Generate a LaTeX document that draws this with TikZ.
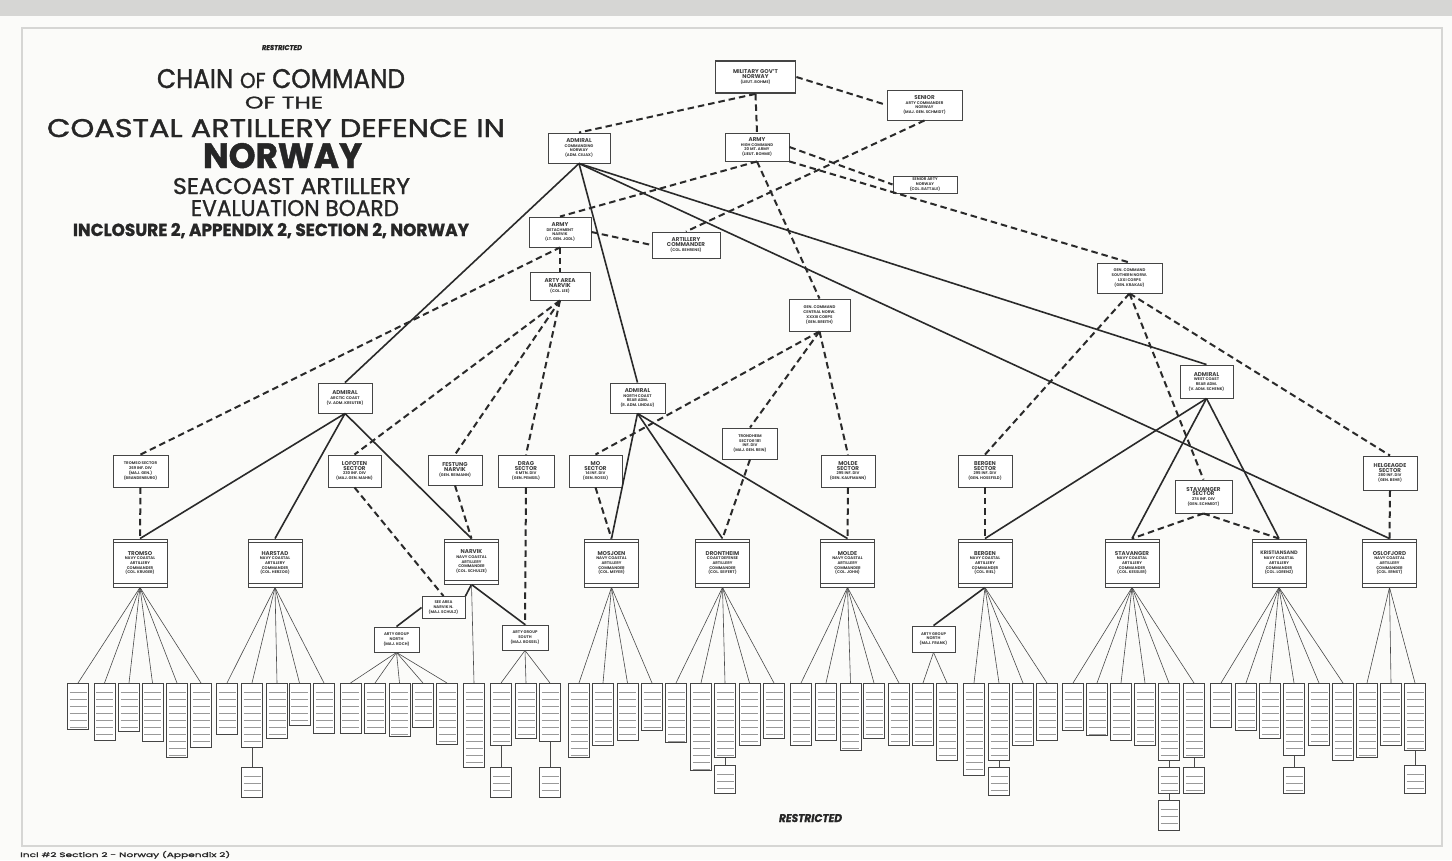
\documentclass[tikz,border=0pt]{standalone}
\usepackage{fontspec}
\setmainfont{Poppins}
\newfontfamily\ttlfont[FakeBold=1.2]{Poppins}
\usepackage{graphicx}
\usetikzlibrary{calc}
\definecolor{linec}{HTML}{2A2A2A}
\definecolor{boxc}{HTML}{454545}
\definecolor{paper}{HTML}{FBFBF9}
\definecolor{edge}{HTML}{D6D6D4}
\newcommand\hd[1]{{\fontsize{5.6}{6.4}\selectfont #1}}
\newcommand\bat[4]{\node[batt, minimum height={#3-683}] (#1) at (#2,683) {};\draw[fan] (#4.south) -- (#1.north);}
\newcommand\subb[5]{\node[batt, minimum height={#4-#3}] (#1) at (#2,#3) {};\draw[fan] (#5.south) -- (#1.north);}
\tikzset{
  box/.style={draw=boxc, line width=0.9pt, fill=white, inner sep=1pt, align=center,
    font=\fontsize{3.9}{4.7}\selectfont\bfseries, text=black!75},
  sz/.style 2 args={minimum width=#1pt, minimum height=#2pt},
  bigbox/.style={box, line width=1.8pt},
  cmdr/.style={box, minimum width=54pt, minimum height=48pt,
    path picture={\draw[boxc, line width=0.45pt]
      ([yshift=-3.5pt]path picture bounding box.north west) -- ([yshift=-3.5pt]path picture bounding box.north east)
      ([yshift=3.5pt]path picture bounding box.south west) -- ([yshift=3.5pt]path picture bounding box.south east);}},
  batt/.style={draw=boxc, line width=0.7pt, fill=white, minimum width=21pt, inner sep=0pt, anchor=north,
    path picture={\foreach \k in {1,...,12}{\draw[boxc!55, line width=0.4pt]
      ([yshift=-\k*7pt-2pt,xshift=2pt]path picture bounding box.north west) -- ++(17,0);}}},
  conn/.style={draw=linec, line width=1.6pt},
  dconn/.style={draw=linec, line width=2pt, dash pattern=on 6.5pt off 4pt},
  fan/.style={draw=linec!85, line width=0.6pt},
  ttl/.style={anchor=base, inner sep=0pt, text=black!85, font=\ttlfont},
}
\begin{document}
\begin{tikzpicture}[x=1pt,y=-1pt]
\useasboundingbox (0,0) rectangle (1452,860);
\fill[paper] (0,0) rectangle (1452,860);
\fill[edge] (0,0) rectangle (1452,16);
\draw[edge, line width=1.2pt] (22,28) rectangle (1442,846);

% ---------- title ----------
\node[ttl] (r1) at (282,50) {\resizebox{40pt}{5pt}{\bfseries\itshape RESTRICTED}};
\node[ttl] (t1) at (281,88) {\resizebox{248pt}{19pt}{CHAIN {\footnotesize OF} COMMAND}};
\node[ttl] (t2) at (284,108.5) {\resizebox{78pt}{12pt}{OF THE}};
\node[ttl] (t3) at (276,137) {\resizebox{458pt}{18pt}{COASTAL ARTILLERY DEFENCE IN}};
\node[ttl] (t4) at (282.5,168) {\resizebox{159pt}{25pt}{\bfseries NORWAY}};
\node[ttl] (t5) at (291.5,194) {\resizebox{237pt}{16pt}{SEACOAST ARTILLERY}};
\node[ttl] (t6) at (295,216) {\resizebox{208pt}{16pt}{EVALUATION BOARD}};
\node[ttl] (t7) at (271,236) {\resizebox{396pt}{13pt}{\bfseries INCLOSURE 2, APPENDIX 2, SECTION 2, NORWAY}};
\node[ttl] (r2) at (810.5,822) {\resizebox{63pt}{8pt}{\bfseries\itshape RESTRICTED}};
\node[ttl, anchor=base west] (ft) at (20,857) {\resizebox{210pt}{6pt}{Incl \#2 Section 2 - Norway (Appendix 2)}};

% ---------- top levels ----------
\node[bigbox, sz={80}{32}] (mil) at (755.5,77) {\hd{MILITARY GOV'T}\\\hd{NORWAY}\\(LIEUT. BOHME)};
\node[box, sz={75}{30}] (senior) at (924.5,105) {\hd{SENIOR}\\ARTY COMMANDER\\NORWAY\\(MAJ. GEN. SCHMIDT)};
\node[box, sz={62}{30}] (adm) at (579,148) {\hd{ADMIRAL}\\COMMANDING\\NORWAY\\(ADM. CILIAX)};
\node[box, sz={64}{28}] (army) at (757,147) {\hd{ARMY}\\HIGH COMMAND\\20 MT. ARMY\\(LIEUT. BOHME)};
\node[box, sz={64}{17}] (sarty) at (925,184.5) {SENIOR ARTY\\NORWAY\\(COL. BATTALE)};
\node[box, sz={62}{30}] (armydet) at (560,232) {\hd{ARMY}\\DETACHMENT\\NARVIK\\(LT. GEN. JODL)};
\node[box, sz={68}{26}] (artcmd) at (686,245) {\hd{ARTILLERY}\\\hd{COMMANDER}\\(COL. BEHRENS)};
\node[box, sz={60}{28}] (artyarea) at (560,286) {\hd{ARTY AREA}\\\hd{NARVIK}\\(COL. LEE)};
\node[box, sz={61}{32}] (gcc) at (819.5,315) {GEN. COMMAND\\CENTRAL NORW.\\XXXIII CORPS\\(GEN. BREITH)};
\node[box, sz={65}{30}] (gcs) at (1129.5,278) {GEN. COMMAND\\SOUTHERN NORW.\\LXXI CORPS\\(GEN. KRAKAU)};

% ---------- admirals ----------
\node[box, sz={54}{30}] (admarc) at (345,398) {\hd{ADMIRAL}\\ARCTIC COAST\\(V. ADM. KREUTER)};
\node[box, sz={55}{30}] (admnor) at (637.5,398) {\hd{ADMIRAL}\\NORTH COAST\\REAR ADM.\\(R. ADM. LINDAU)};
\node[box, sz={53}{33}] (admwest) at (1206.5,381.5) {\hd{ADMIRAL}\\WEST COAST\\REAR ADM.\\(V. ADM. SCHENK)};
\node[box, sz={55}{31}] (trsec) at (750,443.5) {TRONDHEIM\\SECTOR 181\\INF. DIV\\(MAJ. GEN. REIN)};

% ---------- sectors ----------
\node[box, sz={55}{32}] (secTromso) at (140.5,471) {TROMSO SECTOR\\269 INF. DIV\\(MAJ. GEN.)\\(BRANDENBURG)};
\node[box, sz={53}{32}] (secLofoten) at (354.5,471) {\hd{LOFOTEN}\\\hd{SECTOR}\\230 INF. DIV\\(MAJ. GEN. MAHN)};
\node[box, sz={54}{30}] (secNarvik) at (455,470) {\hd{FESTUNG}\\\hd{NARVIK}\\(GEN. REIMANN)};
\node[box, sz={56}{32}] (secDrag) at (526,471) {\hd{DRAG}\\\hd{SECTOR}\\6 MTN. DIV\\(GEN. PEMSEL)};
\node[box, sz={53}{32}] (secMo) at (595.5,471) {\hd{MO}\\\hd{SECTOR}\\14 INF. DIV\\(GEN. ROSSI)};
\node[box, sz={54}{32}] (secMolde) at (848,471) {\hd{MOLDE}\\\hd{SECTOR}\\295 INF. DIV\\(GEN. KAUFMANN)};
\node[box, sz={54}{32}] (secBergen) at (985,471) {\hd{BERGEN}\\\hd{SECTOR}\\295 INF. DIV\\(GEN. HOSSFELD)};
\node[box, sz={57}{33}] (secStav) at (1203.5,496.5) {\hd{STAVANGER}\\\hd{SECTOR}\\274 INF. DIV\\(GEN. SCHMIDT)};
\node[box, sz={54}{34}] (secHelg) at (1390,473) {\hd{HELGEAGDE}\\\hd{SECTOR}\\280 INF. DIV\\(GEN. BEHR)};

% ---------- commanders ----------
\node[cmdr] (cTromso) at (140,563) {\hd{TROMSO}\\NAVY COASTAL\\ARTILLERY\\COMMANDER\\(COL. KRUGER)};
\node[cmdr] (cHarstad) at (275,563) {\hd{HARSTAD}\\NAVY COASTAL\\ARTILLERY\\COMMANDER\\(COL. HERZOG)};
\node[cmdr, minimum height=45pt] (cNarvik) at (471.5,561.5) {\hd{NARVIK}\\NAVY COASTAL\\ARTILLERY\\COMMANDER\\(COL. SCHULZE)};
\node[cmdr] (cMos) at (611.5,563) {\hd{MOSJOEN}\\NAVY COASTAL\\ARTILLERY\\COMMANDER\\(COL. MEYER)};
\node[cmdr] (cDron) at (722.5,563) {\hd{DRONTHEIM}\\COAST DEFENSE\\ARTILLERY\\COMMANDER\\(COL. SEIFERT)};
\node[cmdr] (cMolde) at (847.5,563) {\hd{MOLDE}\\NAVY COASTAL\\ARTILLERY\\COMMANDER\\(COL. JOHN)};
\node[cmdr] (cBergen) at (985,563) {\hd{BERGEN}\\NAVY COASTAL\\ARTILLERY\\COMMANDER\\(COL. RIEL)};
\node[cmdr] (cStav) at (1132,563) {\hd{STAVANGER}\\NAVY COASTAL\\ARTILLERY\\COMMANDER\\(COL. KESSLER)};
\node[cmdr] (cKris) at (1279,563) {{\fontsize{5}{6.4}\selectfont KRISTIANSAND}\\NAVY COASTAL\\ARTILLERY\\COMMANDER\\(COL. LORENZ)};
\node[cmdr] (cOslo) at (1389.5,563) {\hd{OSLOFJORD}\\NAVY COASTAL\\ARTILLERY\\COMMANDER\\(COL. ERNST)};

% ---------- small arty boxes ----------
\node[box, sz={43}{22}] (seearea) at (443.5,607.5) {SEE AREA\\NARVIK N.\\(MAJ. SCHULZ)};
\node[box, sz={45}{25}] (agl) at (396.5,639.5) {ARTY GROUP\\NORTH\\(MAJ. KOCH)};
\node[box, sz={46}{25}] (agr) at (525,637.5) {ARTY GROUP\\SOUTH\\(MAJ. BOSSEL)};
\node[box, sz={43}{26}] (agb) at (933.5,639) {ARTY GROUP\\NORTH\\(MAJ. FRANK)};

% ---------- dashed connectors ----------
\draw[dconn] (mil.south) -- (adm.north);
\draw[dconn] (mil.south) -- (army.north);
\draw[dconn] (mil.east) -- (senior.west);
\draw[dconn] (senior.south) -- (artcmd.north);
\draw[dconn] (army.south) -- (armydet.north);
\draw[dconn] (army.east) -- (sarty.west);
\draw[dconn] (army.south east) -- (gcs.north);
\draw[dconn] (army.south) -- (gcc.north);
\draw[dconn] (armydet.east) -- (artcmd.west);
\draw[dconn] (armydet.south) -- (artyarea.north);
\draw[dconn] (secTromso.north) -- (armydet.south);
\draw[dconn] (artyarea.south) -- (secLofoten.north);
\draw[dconn] (artyarea.south) -- (secNarvik.north);
\draw[dconn] (artyarea.south) -- (secDrag.north);
\draw[dconn] (gcc.south) -- (secMo.north);
\draw[dconn] (gcc.south) -- (trsec.north);
\draw[dconn] (gcc.south) -- (secMolde.north);
\draw[dconn] (gcs.south) -- (secBergen.north);
\draw[dconn] (gcs.south) -- (secStav.north);
\draw[dconn] (gcs.south) -- (secHelg.north);
\draw[dconn] (secTromso.south) -- (cTromso.north);
\draw[dconn] (secLofoten.south) -- (seearea.north);
\draw[dconn] (secNarvik.south) -- (cNarvik.north);
\draw[dconn] (secDrag.south) -- (agr.north);
\draw[dconn] (secMo.south) -- (cMos.north);
\draw[dconn] (trsec.south) -- (cDron.north);
\draw[dconn] (secMolde.south) -- (cMolde.north);
\draw[dconn] (secBergen.south) -- (cBergen.north);
\draw[dconn] (secStav.south) -- (cStav.north);
\draw[dconn] (secStav.south) -- (cKris.north);
\draw[dconn] (secHelg.south) -- (cOslo.north);

% ---------- solid connectors ----------
\draw[conn] (adm.south) -- (admarc.north);
\draw[conn] (adm.south) -- (admnor.north);
\draw[conn] (adm.south) -- (admwest.north);
\draw[conn] (adm.south) -- (cOslo.north);
\draw[conn] (admarc.south) -- (cTromso.north);
\draw[conn] (admarc.south) -- (cHarstad.north);
\draw[conn] (admarc.south) -- (cNarvik.north);
\draw[conn] (admnor.south) -- (cMos.north);
\draw[conn] (admnor.south) -- (cDron.north);
\draw[conn] (admnor.south) -- (cMolde.north);
\draw[conn] (admwest.south) -- (cBergen.north);
\draw[conn] (admwest.south) -- (cStav.north);
\draw[conn] (admwest.south) -- (cKris.north);
\draw[conn] (cNarvik.south) -- (seearea.north east);
\draw[conn] (cNarvik.south) -- (agr.north);
\draw[conn] (seearea.west) -- (agl.north);
\draw[conn] (cBergen.south) -- (agb.north);

% ---------- batteries ----------
\bat{b1}{78}{729}{cTromso}\bat{b2}{104.5}{740}{cTromso}\bat{b3}{129}{731}{cTromso}
\bat{b4}{152.5}{741}{cTromso}\bat{b5}{177}{757}{cTromso}\bat{b6}{201}{747}{cTromso}
\bat{b7}{227}{734}{cHarstad}\bat{b8}{252}{747}{cHarstad}\bat{b9}{277}{738}{cHarstad}
\bat{b10}{299.5}{725}{cHarstad}\bat{b11}{324}{733}{cHarstad}
\subb{s8}{252}{767}{797}{b8}
\bat{b12}{350.5}{733}{agl}\bat{b13}{375}{733}{agl}\bat{b14}{399.5}{736}{agl}
\bat{b15}{423}{727}{agl}\bat{b16}{447}{744}{agl}
\bat{b17}{474}{767}{cNarvik}
\bat{b18}{501}{745}{agr}\bat{b19}{526}{738}{agr}\bat{b20}{550}{741}{agr}
\subb{s18}{501}{767}{797}{b18}\subb{s20}{550}{767}{797}{b20}
\bat{b21}{579}{757}{cMos}\bat{b22}{603}{745}{cMos}\bat{b23}{627.5}{740}{cMos}\bat{b24}{652}{730}{cMos}
\bat{b25}{676}{742}{cDron}\bat{b26}{701}{770}{cDron}\bat{b27}{725}{757}{cDron}
\bat{b28}{749.5}{745}{cDron}\bat{b29}{774}{738}{cDron}
\subb{s27}{725}{765}{793}{b27}
\bat{b30}{801}{745}{cMolde}\bat{b31}{826}{740}{cMolde}\bat{b32}{850.5}{750}{cMolde}
\bat{b33}{874}{738}{cMolde}\bat{b34}{899}{745}{cMolde}
\bat{b35}{923}{745}{agb}\bat{b36}{947}{760}{agb}
\bat{b37}{974}{775}{cBergen}\bat{b38}{999}{760}{cBergen}\bat{b39}{1023}{745}{cBergen}\bat{b40}{1047}{740}{cBergen}
\subb{s38}{999}{767}{795}{b38}
\bat{b41}{1073}{730}{cStav}\bat{b42}{1097}{735}{cStav}\bat{b43}{1121}{740}{cStav}
\bat{b44}{1145}{745}{cStav}\bat{b45}{1169}{760}{cStav}\bat{b46}{1194}{757}{cStav}
\subb{s45}{1169}{767}{793}{b45}\subb{s45b}{1169}{800}{830}{s45}\subb{s46}{1194}{767}{793}{b46}
\bat{b47}{1221}{727}{cKris}\bat{b48}{1246}{730}{cKris}\bat{b49}{1270}{738}{cKris}
\bat{b50}{1294}{755}{cKris}\bat{b51}{1319}{745}{cKris}\bat{b52}{1343}{760}{cKris}
\subb{s50}{1294}{767}{793}{b50}
\bat{b53}{1367}{757}{cOslo}\bat{b54}{1391}{745}{cOslo}\bat{b55}{1415}{750}{cOslo}
\subb{s55}{1415}{765}{793}{b55}
\end{tikzpicture}
\end{document}
